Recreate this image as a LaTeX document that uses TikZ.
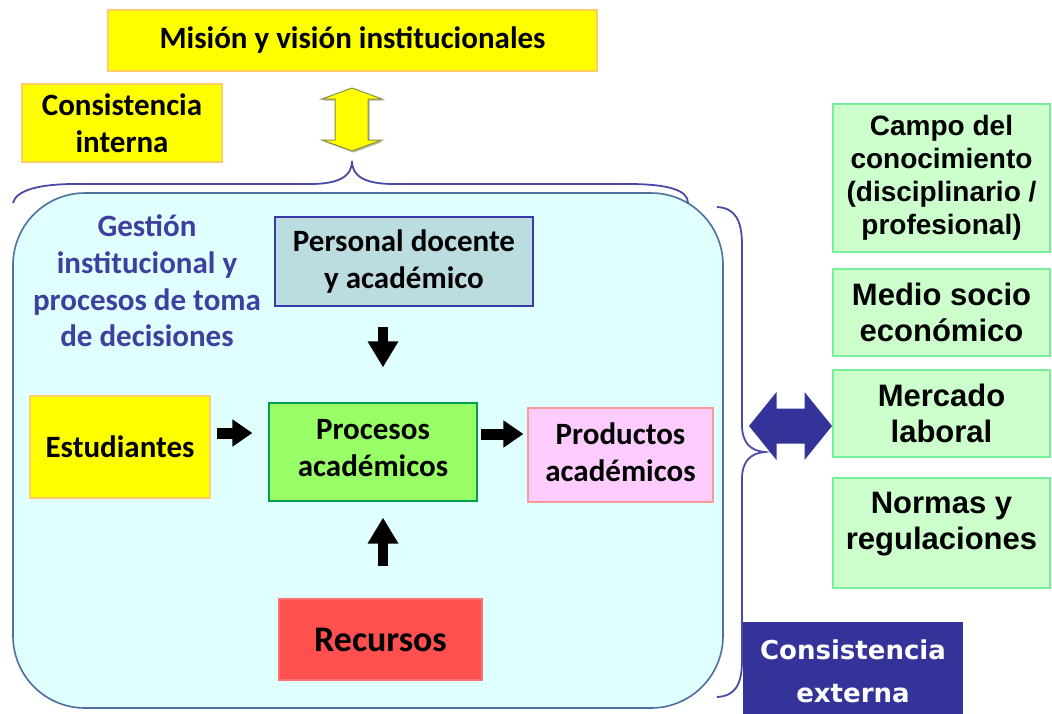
\documentclass[tikz,border=0pt]{standalone}
\usepackage{fontspec}
\setmainfont{Carlito}
\newfontfamily\arialf{Liberation Sans}
\newfontfamily\dejaf{DejaVu Sans}
\usetikzlibrary{arrows.meta,calc}
\definecolor{yel}{HTML}{FFFF00}
\definecolor{yelb}{HTML}{FFCC66}
\definecolor{cyanf}{HTML}{E0FFFF}
\definecolor{cyanb}{HTML}{4F6F9F}
\definecolor{gesttxt}{HTML}{3F3F9F}
\definecolor{persf}{HTML}{BBDDE0}
\definecolor{persb}{HTML}{3A3AAA}
\definecolor{procf}{HTML}{99FF66}
\definecolor{procb}{HTML}{00A050}
\definecolor{prodf}{HTML}{FFCCFF}
\definecolor{prodb}{HTML}{FF9999}
\definecolor{recf}{HTML}{FF5050}
\definecolor{recb}{HTML}{FF7070}
\definecolor{grnf}{HTML}{CCFFCC}
\definecolor{grnb}{HTML}{77EE99}
\definecolor{navyc}{HTML}{333399}
\definecolor{bracec}{HTML}{4A4AA5}
\definecolor{yarrb}{HTML}{8A8A50}
\begin{document}
\begin{tikzpicture}[x=1pt,y=-1pt,
  cal/.style={font=\fontsize{31}{36.5}\selectfont\bfseries},
  box/.style={cal, draw, line width=1.2pt, inner sep=0pt, align=center},
  rbox/.style={draw=grnb, fill=grnf, line width=1.2pt, inner sep=0pt, align=center,
    minimum width=217pt},
  rtxt/.style={font=\arialf\bfseries\fontsize{31}{36.5}\selectfont, align=center, inner sep=0pt},
  blkv/.style={draw=black, line width=10pt, -{Triangle[length=26pt,width=29pt]}},
  blkh/.style={draw=black, line width=11pt, -{Triangle[length=20pt,width=26pt]}},
  brace/.style={draw=bracec, line width=1.8pt}
]
\useasboundingbox (0,0) rectangle (1052,713);
\fill[white] (0,0) rectangle (1052,713);

% big rounded box
\draw[draw=cyanb, fill=cyanf, line width=1.6pt, rounded corners=72pt] (13,193) rectangle (723,708);

% top part
\node[box, draw=yelb, fill=yel, minimum width=489pt, minimum height=61pt] (mision) at (352.5,40.5) {Misión y visión institucionales};
\node[box, draw=yelb, fill=yel, minimum width=200pt, minimum height=78pt] (cint) at (122,123) {Consistencia\\interna};

% top brace
\draw[brace] (13,203) .. controls (16,190) and (40,184) .. (75,184) -- (310,184)
  .. controls (338,184) and (352,177) .. (352,161) coordinate (topcusp)
  .. controls (352,177) and (366,184) .. (394,184) -- (628,184)
  .. controls (668,184) and (688,190) .. (688,203);

% yellow double arrow between mision and brace
\fill[yarrb!60] (353.5,89.5) -- (383.5,100.5) -- (369.5,100.5) -- (369.5,141.5) -- (383.5,141.5) -- (353.5,152.5) -- (323.5,141.5) -- (336.5,141.5) -- (336.5,100.5) -- (323.5,100.5) -- cycle;
\draw[draw=yarrb, fill=yel, line width=1pt, line join=miter]
  (352,88) -- (382,99) -- (368,99) -- (368,140) -- (382,140) -- (352,151)
  -- (322,140) -- (335,140) -- (335,99) -- (322,99) -- cycle;

% inner content
\node[cal, text=gesttxt, align=center, inner sep=0pt] (gestion) at (147,281)
  {Gestión\\[0.2pt]institucional y\\[0.2pt]procesos de toma\\[0.2pt]de decisiones};
\node[box, draw=persb, fill=persf, minimum width=258pt, minimum height=89pt] (personal) at (404,261.5) {Personal docente\\y académico};
\node[box, draw=yelb, fill=yel, minimum width=180pt, minimum height=102pt] (estud) at (120,447) {Estudiantes};
\node[box, draw=procb, fill=procf, minimum width=208pt, minimum height=98pt] (proc) at (373,452) {};
\node[cal, align=center, inner sep=0pt] at (373,448) {Procesos\\académicos};
\node[box, draw=prodb, fill=prodf, minimum width=185pt, minimum height=94pt] (prod) at (620.5,455) {};
\node[cal, align=center, inner sep=0pt] at (620.5,452) {Productos\\académicos};
\node[box, draw=recb, fill=recf, minimum width=203pt, minimum height=81pt, font=\fontsize{36}{40}\selectfont\bfseries] (rec) at (380.5,639.5) {Recursos};

% black arrows
\draw[blkv, shorten <=20pt, shorten >=35pt] ([xshift=-21pt]personal.south) -- ([xshift=10pt]proc.north);
\draw[blkh, shorten <=6pt, shorten >=16pt] ([yshift=14pt]estud.east) -- ([yshift=14pt]estud.east -| proc.west);
\draw[blkh, shorten <=3pt, shorten >=4pt] ([yshift=18pt]proc.east) -- ([yshift=18pt]proc.east -| prod.west);
\draw[blkv, shorten <=32pt, shorten >=16pt] ([xshift=2.5pt]rec.north) -- ([xshift=10pt]proc.south);

% right side boxes
\node[rbox, minimum height=148pt] (campo) at (941.5,178) {};
\node[rtxt, font=\arialf\bfseries\fontsize{28}{33}\selectfont] at (campo.center) {Campo del\\conocimiento\\(disciplinario /\\profesional)};
\node[rbox, minimum height=87pt, rtxt] (medio) at (941.5,312.5) {Medio socio\\económico};
\node[rbox, minimum height=87pt, rtxt] (mercado) at (941.5,413.5) {Mercado\\laboral};
\node[rbox, minimum height=110pt] (normas) at (941.5,533) {};
\node[rtxt] at (941.5,524) {Normas y\\regulaciones};

% right brace
\draw[brace] (717,207) .. controls (735,208) and (742,220) .. (742,245) -- (742,425)
  .. controls (742,442) and (750,451) .. (765,452) coordinate (rightcusp)
  .. controls (750,453) and (742,462) .. (742,479) -- (742,660)
  .. controls (742,685) and (735,696) .. (717,697);

% blue double arrow
\fill[navyc] (749,426) -- (776.5,392) -- (776.5,408.5) -- (804.5,408.5) -- (804.5,392) -- (832,426)
  -- (804.5,460) -- (804.5,443.5) -- (776.5,443.5) -- (776.5,460) -- cycle;

% consistencia externa
\node[fill=navyc, minimum width=220pt, minimum height=100pt, inner sep=0pt] (cext) at (853,672) {};
\node[text=white, font=\dejaf\bfseries\fontsize{26}{43}\selectfont, align=center, inner sep=0pt] at (853,671) {Consistencia\\externa};
\end{tikzpicture}
\end{document}
